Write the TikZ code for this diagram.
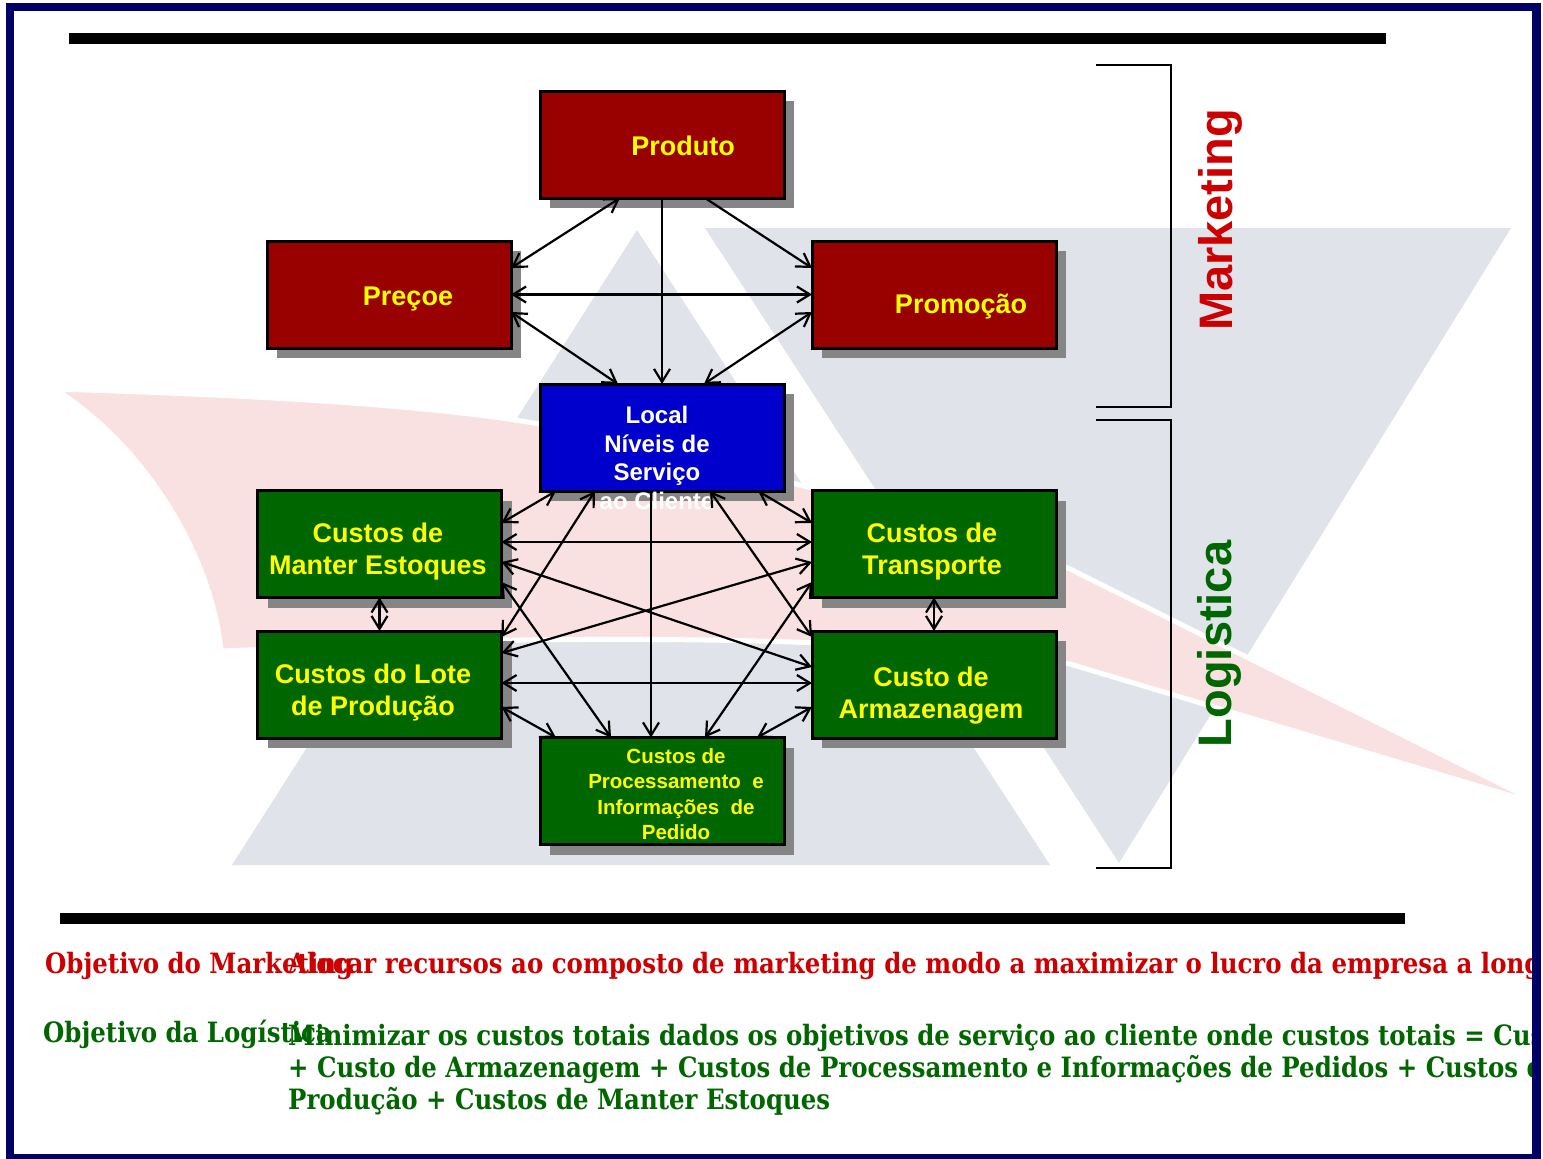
\documentclass[tikz,border=0pt]{standalone}
\usepackage{fontspec}
\setmainfont{Liberation Sans}
\newfontfamily\objfont{DejaVu Serif}[FakeStretch=0.873]
\usetikzlibrary{arrows.meta,shadows}
\definecolor{framenavy}{HTML}{000066}
\definecolor{boxred}{HTML}{990000}
\definecolor{boxblue}{HTML}{0000CC}
\definecolor{boxgreen}{HTML}{006600}
\definecolor{boxyellow}{HTML}{FFFF00}
\definecolor{shadowgray}{HTML}{858585}
\definecolor{wmgray}{HTML}{E1E3EB}
\definecolor{wmpink}{HTML}{FAE1E1}
\definecolor{txtred}{HTML}{CC0000}
\definecolor{txtgreen}{HTML}{006600}
\tikzset{
  box/.style={draw=black, line width=3pt, minimum width=244pt, minimum height=107pt,
    inner sep=0pt, outer sep=0pt,
    drop shadow={shadow xshift=10pt, shadow yshift=-10pt, fill=shadowgray, opacity=1}},
  redbox/.style={box, fill=boxred},
  bluebox/.style={box, fill=boxblue},
  greenbox/.style={box, fill=boxgreen},
  boxtext/.style={text=boxyellow, font=\bfseries\fontsize{27}{32}\selectfont, align=center, inner sep=0pt},
  biarrow/.style={line width=2.2pt, {Straight Barb[length=13pt,width=16pt]}-{Straight Barb[length=13pt,width=16pt]}},
  onearrow/.style={line width=2.2pt, -{Straight Barb[length=13pt,width=16pt]}},
  objtext/.style={font=\objfont\bfseries\fontsize{28}{32}\selectfont, anchor=base west, inner sep=0pt},
  sidelabel/.style={rotate=90, font=\bfseries\fontsize{47}{56}\selectfont, inner sep=0pt},
  bracket/.style={line width=2.5pt, draw=black},
  bar/.style={fill=black}
}
\begin{document}
\begin{tikzpicture}[x=1pt,y=-1pt]
\useasboundingbox[fill=white] (0,0) rectangle (1543,1159);
% watermark
\fill[wmgray] (637,230) -- (232,865) -- (1050,865) -- cycle;
\fill[wmgray] (705,228) -- (1511,228) -- (1119,863) -- cycle;
\filldraw[fill=wmpink, draw=white, line width=5pt, line join=round]
  (55,389) .. controls (250,395) and (450,405) .. (560,428)
  .. controls (750,470) and (950,520) .. (1070,569) -- (1545,806)
  -- (1070,664) .. controls (900,640) and (700,638) .. (520,640)
  -- (221,651) .. controls (212,560) and (150,450) .. (55,389) -- cycle;
% bars
\fill[bar] (69,33) rectangle (1386,44);
\fill[bar] (60,913) rectangle (1405,924);
% brackets
\draw[bracket] (1096,65) -- (1171,65) -- (1171,407) -- (1096,407);
\draw[bracket] (1096,420) -- (1171,420) -- (1171,868) -- (1096,868);
% boxes
\node[redbox] (prod) at (662,144.5) {};
\node[redbox] (prec) at (389,294.5) {};
\node[redbox] (prom) at (934,294.5) {};
\node[bluebox] (local) at (662,437.5) {};
\node[greenbox] (manter) at (379.5,544) {};
\node[greenbox] (transp) at (934,544) {};
\node[greenbox] (lote) at (379.5,684.5) {};
\node[greenbox] (armaz) at (934,684.5) {};
\node[greenbox] (proc) at (662,791) {};
% box texts
\node[boxtext, anchor=base] (prodt) at (683,155) {Produto};
\node[boxtext, anchor=base] (prect) at (408,305) {Preçoe};
\node[boxtext, anchor=base] (promt) at (961,313) {Promoção};
\node[boxtext, text=white, font=\bfseries\fontsize{24}{28.7}\selectfont] (localt) at (657,458) {Local\\Níveis de\\Serviço\\ao Cliente};
\node[boxtext] (mantert) at (378,552) {Custos de\\Manter Estoques};
\node[boxtext] (transpt) at (932,552) {Custos de\\Transporte};
\node[boxtext] (lotet) at (373,693) {Custos do Lote\\de Produção};
\node[boxtext] (armazt) at (931,696) {Custo de\\Armazenagem};
\node[boxtext, font=\bfseries\fontsize{20.5}{25.4}\selectfont] (proct) at (676,794) {Custos de\\Processamento\ \ e\\Informações\ \ de\\Pedido};
% marketing connectors
\draw[biarrow] ([xshift=-42pt]prod.south) -- ([yshift=26.5pt]prec.east);
\draw[onearrow] ([xshift=43pt]prod.south) -- ([yshift=26.5pt]prom.west);
\draw[onearrow] (prod.south) -- (local.north);
\draw[biarrow] (prec.east) -- (prom.west);
\draw[biarrow] ([yshift=-17.5pt]prec.east) -- ([xshift=-44pt]local.north);
\draw[biarrow] ([yshift=-17.5pt]prom.west) -- ([xshift=42pt]local.north);
% logistics connectors
\draw[biarrow] ([xshift=-106pt]local.south) -- ([yshift=21pt]manter.east);
\draw[biarrow] ([xshift=-67pt]local.south) -- ([yshift=47.5pt]lote.east);
\draw[onearrow] ([xshift=-11pt]local.south) -- ([xshift=-11pt]proc.north);
\draw[biarrow] ([xshift=48pt]local.south) -- ([yshift=47.5pt]armaz.west);
\draw[biarrow] ([xshift=96pt]local.south) -- ([yshift=21pt]transp.west);
\draw[biarrow] ([yshift=2pt]manter.east) -- ([yshift=2pt]transp.west);
\draw[biarrow] ([yshift=-18pt]manter.east) -- ([yshift=17.5pt]armaz.west);
\draw[biarrow] ([yshift=-38pt]manter.east) -- ([xshift=-51pt]proc.north);
\draw[biarrow] ([yshift=31.5pt]lote.east) -- ([yshift=-18pt]transp.west);
\draw[biarrow] ([yshift=1.5pt]lote.east) -- ([yshift=1.5pt]armaz.west);
\draw[biarrow] ([yshift=-22.5pt]lote.east) -- ([xshift=-106pt]proc.north);
\draw[biarrow] ([yshift=-38pt]transp.west) -- ([xshift=43pt]proc.north);
\draw[biarrow] ([yshift=-22.5pt]armaz.west) -- ([xshift=95pt]proc.north);
\draw[biarrow] (manter.south) -- (lote.north);
\draw[biarrow] (transp.south) -- (armaz.north);
% side labels
\node[sidelabel, text=txtred] (mklabel) at (1220,220) {Marketing};
\node[sidelabel, text=txtgreen] (lglabel) at (1219,644) {Logistica};
% objectives
\begin{scope}
\clip (0,0) rectangle (1532,1159);
\node[objtext, text=txtred] (objm) at (45,973) {Objetivo do Marketing};
\node[objtext, text=txtred] (alocar) at (288,973) {Alocar recursos ao composto de marketing de modo a maximizar o lucro da empresa a longo};
\node[objtext, text=txtgreen] (objl) at (43,1042) {Objetivo da Logística};
\node[objtext, text=txtgreen] (minl1) at (288,1045) {Minimizar os custos totais dados os objetivos de serviço ao cliente onde custos totais = Custos};
\node[objtext, text=txtgreen] (minl2) at (288,1077) {+ Custo de Armazenagem + Custos de Processamento e Informações de Pedidos + Custos do};
\node[objtext, text=txtgreen] (minl3) at (288,1109) {Produção + Custos de Manter Estoques};
\end{scope}
% frame
\draw[framenavy, line width=8.5pt] (10,7) rectangle (1536.5,1158);
\end{tikzpicture}
\end{document}
